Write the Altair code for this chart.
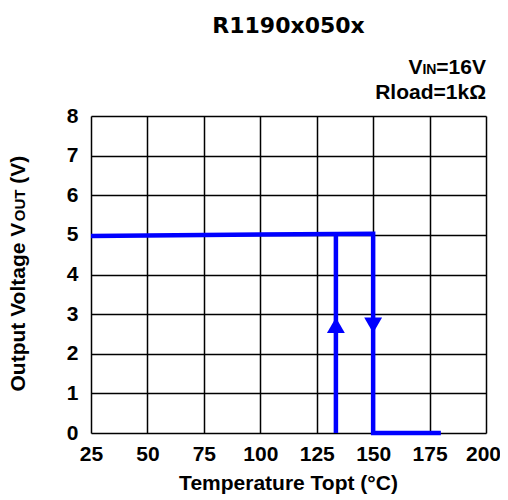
import altair as alt
import pandas as pd

# ---- data ----
heat_x = [25, 100, 150, 150, 180]
heat_y = [4.97, 5.01, 5.03, 0, 0]
cool_x = [133.5, 133.5]
cool_y = [0, 5.02]
arrow_x = [133.5, 150]
arrow_y = [2.72, 2.72]
arrow_shape = ["triangle-up", "triangle-down"]
x_ticks = [25, 50, 75, 100, 125, 150, 175, 200]
y_ticks = [0, 1, 2, 3, 4, 5, 6, 7, 8]

FONT = "Liberation Sans"
W, H = 395, 317

rows = []
for i, (x, y) in enumerate(zip(heat_x, heat_y)):
    rows.append({"t": x, "v": y, "path": "heat", "o": i})
for i, (x, y) in enumerate(zip(cool_x, cool_y)):
    rows.append({"t": x, "v": y, "path": "cool", "o": i})
line_df = pd.DataFrame(rows)
arrow_df = pd.DataFrame({"t": arrow_x, "v": arrow_y, "shape": arrow_shape})

xs = alt.Scale(domain=[25, 200], nice=False, zero=False)
ys = alt.Scale(domain=[0, 8], nice=False)

common = dict(title=None, grid=True, ticks=False, domain=False, labelOverlap=False,
              tickCount=20, format="d",
              labelFont=FONT, labelFontSize=21, labelFontWeight="bold", labelColor="black",
              gridColor="black", gridWidth=1.5, gridOpacity=1, labelFlush=False)
xaxis = alt.Axis(values=x_ticks, labelPadding=10,
                 labelOffset={"expr": "datum.value == 200 ? -3 : 0"}, **common)
yaxis = alt.Axis(values=y_ticks, labelPadding=13, **common)

base = alt.Chart(line_df)
lines = base.mark_line(color="#0000FF", strokeWidth=4.5, strokeCap="butt", strokeJoin="miter").encode(
    x=alt.X("t:Q", scale=xs, axis=xaxis),
    y=alt.Y("v:Q", scale=ys, axis=yaxis),
    detail="path:N",
    order="o:Q",
)
arrows = alt.Chart(arrow_df).mark_point(filled=True, color="#0000FF", opacity=1, size=320).encode(
    x=alt.X("t:Q", scale=xs, axis=xaxis),
    y=alt.Y("v:Q", scale=ys, axis=yaxis),
    shape=alt.Shape("shape:N", scale=None, legend=None),
)

one = pd.DataFrame({"k": [0]})

def txt(s, x, y, size, align="left", angle=0, font=FONT):
    return alt.Chart(one).mark_text(
        text=s, font=font, fontSize=size, fontWeight="bold", color="black",
        align=align, baseline="alphabetic", angle=angle,
    ).encode(x=alt.value(x), y=alt.value(y))

YT = 21
yt_x = -66
yt_start = H / 2 + 117
w1 = 8.112 * YT
w2 = 2.111 * 15
w_sp = 0.278 * YT

texts = [
    txt("R1190x050x", W / 2, -83, 22, align="center", font="DejaVu Sans"),
    # VIN=16V
    txt("=16V", W, -42, 21, align="right"),
    txt("IN", W - 49.6, -42, 14, align="right"),
    txt("V", W - 63.6, -42, 21, align="right"),
    txt("Rload=1kΩ", W, -17, 21, align="right"),
    # x title
    txt("Temperature Topt (°C)", W / 2, H + 57, 21, align="center"),
    # y title pieces (rotated, reading upward)
    txt("Output Voltage V", yt_x, yt_start, YT, align="left", angle=270),
    txt("OUT", yt_x, yt_start - w1, 15, align="left", angle=270),
    txt("(V)", yt_x, yt_start - w1 - w2 - w_sp, YT, align="left", angle=270),
]

chart = alt.layer(lines, arrows, *texts).properties(
    width=W, height=H,
    autosize=alt.AutoSizeParams(type="none"),
    padding={"left": 83, "top": 108, "right": 14, "bottom": 62},
).configure_view(stroke="black", strokeWidth=1.5).configure(background="white")

chart.save("out.html", embed_options={"renderer": "svg", "actions": False})
